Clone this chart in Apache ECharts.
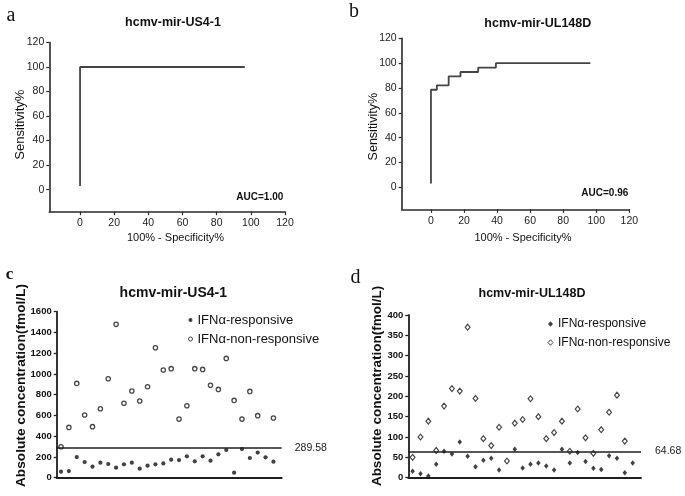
<!DOCTYPE html>
<html><head><meta charset="utf-8">
<script src="https://cdn.jsdelivr.net/npm/echarts@6/dist/echarts.min.js"></script>
<style>html,body{margin:0;padding:0;background:#fff}#c{width:685px;height:496px}</style>
</head><body><div id="c"></div>
<script>
// ---------- data ----------
const rocTicks = [0, 20, 40, 60, 80, 100, 120];
const rocA_fpr = [0, 0, 96.43];
const rocA_tpr = [3, 100, 100];
const rocB_fpr = [0, 0, 3.57, 10.71, 17.86, 28.57, 39.29, 96.43];
const rocB_tpr = [3, 78.57, 82.14, 89.29, 92.86, 96.43, 100, 100];
const aucA = 'AUC=1.00';
const aucB = 'AUC=0.96';
const seriesNames = ['IFNα-responsive', 'IFNα-non-responsive'];
const cResponsive = [58, 64, 199, 151, 106, 145, 132, 97, 129, 145, 87, 116, 129, 138, 174, 170, 206, 158, 206, 164, 225, 267, 48, 276, 190, 242, 196, 154];
const cNonResponsive = [299, 485, 909, 604, 492, 665, 954, 1478, 717, 835, 739, 877, 1253, 1038, 1051, 565, 694, 1051, 1044, 890, 851, 1150, 745, 565, 832, 598, null, 575];
const cCutoff = 289.58;
const dResponsive = [16, 10, 4, 33, 65, 58, 88, 53, 27, 43, 48, 19, null, 70, 24, 33, 36, 29, 19, 70, 36, 62, 40, 23, 20, 54, 48, 12, 36];
const dNonResponsive = [50, 100, 139, 67, 176, 219, 213, 370, 195, 96, 79, 124, 41, 134, 143, 194, 150, 96, 111, 139, 65, 169, 98, 60, 118, 161, 203, 90, null];
const dCutoff = 64.68;
const titles = ['hcmv-mir-US4-1', 'hcmv-mir-UL148D', 'hcmv-mir-US4-1', 'hcmv-mir-UL148D'];
const panelLetters = ['a', 'b', 'c', 'd'];

// ---------- helpers ----------
const pairs = (xs, ys) => xs.map((x, i) => [x, ys[i]]);
const indexed = arr => arr.map((v, i) => v == null ? null : [i + 1, v]).filter(Boolean);
const INK = '#1e1e1e';

function rocX(idx, min) {
  return {
    gridIndex: idx, type: 'value', min: min, max: 120,
    axisLine: { show: true, onZero: false, lineStyle: { color: '#2a2a2a', width: 1.6 } },
    axisTick: { show: true, customValues: rocTicks, length: 3.5, lineStyle: { color: '#2a2a2a', width: 1.2 } },
    axisLabel: { customValues: rocTicks, margin: 6, fontSize: 10.5, color: '#222', fontFamily: 'Liberation Sans, Arial' },
    splitLine: { show: false }
  };
}
function rocY(idx, min) {
  return {
    gridIndex: idx, type: 'value', min: min, max: 120,
    axisLine: { show: true, onZero: false, lineStyle: { color: '#2a2a2a', width: 1.6 } },
    axisTick: { show: true, customValues: rocTicks, length: 3, lineStyle: { color: '#2a2a2a', width: 1.2 } },
    axisLabel: { customValues: rocTicks, margin: 5, fontSize: 10.5, color: '#222', fontFamily: 'Liberation Sans, Arial' },
    splitLine: { show: false }
  };
}
function scatX(idx, max) {
  return {
    gridIndex: idx, type: 'value', min: 0.45, max: max,
    axisLine: { show: true, onZero: false, lineStyle: { color: INK, width: 1.8 } },
    axisTick: { show: false }, axisLabel: { show: false }, splitLine: { show: false }
  };
}
function scatY(idx, max, interval) {
  return {
    gridIndex: idx, type: 'value', min: 0, max: max, interval: interval,
    axisLine: { show: true, lineStyle: { color: INK, width: 1.8 } },
    axisTick: { show: true, length: 3, lineStyle: { color: INK, width: 1.3 } },
    axisLabel: { margin: 5, fontSize: 9.5, fontWeight: 'bold', color: '#111', fontFamily: 'Liberation Sans, Arial', formatter: v => String(v) },
    splitLine: { show: false }
  };
}
function cutLine(val, dist) {
  return {
    silent: true, symbol: 'none', animation: false,
    lineStyle: { color: INK, width: 1.5, type: 'solid' },
    label: { position: 'end', distance: dist, formatter: String(val), color: '#222', fontSize: 10.5, fontFamily: 'Liberation Sans, Arial' },
    data: [{ yAxis: val }]
  };
}
function txt(x, y, text, font, opts) {
  return Object.assign({
    type: 'text', x: x, y: y, silent: true,
    style: { text: text, font: font, fill: '#111', align: 'center', verticalAlign: 'middle' }
  }, opts || {});
}
const hollow = { color: '#fff', borderColor: '#1a1a1a', borderWidth: 1.3 };

const chart = echarts.init(document.getElementById('c'), null, { renderer: 'canvas' });
chart.setOption({
  animation: false,
  backgroundColor: '#fff',
  grid: [
    { left: 49.3, top: 42.5, width: 235.7, height: 169.2 },
    { left: 401.7, top: 38.3, width: 227.6, height: 171 },
    { left: 56.7, top: 311.7, width: 225, height: 166 },
    { left: 408.3, top: 315, width: 232.7, height: 162.7 }
  ],
  xAxis: [rocX(0, -18), rocX(1, -17.7), scatX(2, 29.05), scatX(3, 30.06)],
  yAxis: [rocY(0, -18), rocY(1, -17.7), scatY(2, 1600, 200), scatY(3, 400, 50)],
  legend: [
    {
      orient: 'vertical', left: 183, top: 308.5, itemWidth: 4, itemHeight: 4, itemGap: 6,
      textStyle: { fontSize: 13, color: '#111', fontFamily: 'Liberation Sans, Arial' },
      selectedMode: false,
      data: [
        { name: seriesNames[0], icon: 'circle', itemStyle: { color: '#111', borderWidth: 0 } },
        { name: seriesNames[1], icon: 'circle', itemStyle: { color: '#fff', borderColor: '#1a1a1a', borderWidth: 1 } }
      ]
    },
    {
      orient: 'vertical', left: 542.5, top: 313, itemWidth: 5, itemHeight: 5.5, itemGap: 6.5,
      textStyle: { fontSize: 12, color: '#111', fontFamily: 'Liberation Sans, Arial' },
      selectedMode: false,
      data: [
        { name: seriesNames[0], icon: 'diamond', itemStyle: { color: '#111', borderWidth: 0 } },
        { name: seriesNames[1], icon: 'diamond', itemStyle: { color: '#fff', borderColor: '#1a1a1a', borderWidth: 1 } }
      ]
    }
  ],
  series: [
    {
      type: 'line', xAxisIndex: 0, yAxisIndex: 0, data: pairs(rocA_fpr, rocA_tpr),
      showSymbol: false, lineStyle: { color: '#444', width: 1.8 }, silent: true
    },
    {
      type: 'line', xAxisIndex: 1, yAxisIndex: 1, data: pairs(rocB_fpr, rocB_tpr), step: 'end',
      showSymbol: false, lineStyle: { color: '#444', width: 1.8 }, silent: true
    },
    {
      name: seriesNames[0], type: 'scatter', xAxisIndex: 2, yAxisIndex: 2, data: indexed(cResponsive),
      symbol: 'circle', symbolSize: 4.2, itemStyle: { color: '#111' }, markLine: cutLine(cCutoff, 13)
    },
    {
      name: seriesNames[1], type: 'scatter', xAxisIndex: 2, yAxisIndex: 2, data: indexed(cNonResponsive),
      symbol: 'circle', symbolSize: 4.3, itemStyle: hollow
    },
    {
      name: seriesNames[0], type: 'scatter', xAxisIndex: 3, yAxisIndex: 3, data: indexed(dResponsive),
      symbol: 'diamond', symbolSize: [4.5, 5.5], itemStyle: { color: '#111' }, markLine: cutLine(dCutoff, 14)
    },
    {
      name: seriesNames[1], type: 'scatter', xAxisIndex: 3, yAxisIndex: 3, data: indexed(dNonResponsive),
      symbol: 'diamond', symbolSize: [4.8, 5.8], itemStyle: { color: '#fff', borderColor: '#1a1a1a', borderWidth: 1.2 }
    }
  ],
  graphic: [
    txt(11, 16, panelLetters[0], '20px "Liberation Serif", "Times New Roman", serif'),
    txt(354, 12, panelLetters[1], '20px "Liberation Serif", "Times New Roman", serif'),
    txt(9.5, 274.5, panelLetters[2], 'bold 17px "Liberation Serif", "Times New Roman", serif'),
    txt(355.5, 277.5, panelLetters[3], '20px "Liberation Serif", "Times New Roman", serif'),
    txt(173, 22.5, titles[0], 'bold 12.5px "Liberation Sans", Arial, sans-serif'),
    txt(537.8, 23.3, titles[1], 'bold 12.5px "Liberation Sans", Arial, sans-serif'),
    txt(173.3, 293, titles[2], 'bold 14px "Liberation Sans", Arial, sans-serif'),
    txt(532, 294, titles[3], 'bold 12.5px "Liberation Sans", Arial, sans-serif'),
    txt(20.7, 124.7, 'Sensitivity%', '13px "Liberation Sans", Arial, sans-serif', { rotation: Math.PI / 2 }),
    txt(373.3, 126.7, 'Sensitivity%', '12.5px "Liberation Sans", Arial, sans-serif', { rotation: Math.PI / 2 }),
    txt(175.5, 237.5, '100% - Specificity%', '11px "Liberation Sans", Arial, sans-serif'),
    txt(523, 237.5, '100% - Specificity%', '11px "Liberation Sans", Arial, sans-serif'),
    txt(21.5, 385.5, 'Absolute concentration(fmol/L)', 'bold 13.7px "Liberation Sans", Arial, sans-serif', { rotation: Math.PI / 2 }),
    txt(377, 386, 'Absolute concentration(fmol/L)', 'bold 13.5px "Liberation Sans", Arial, sans-serif', { rotation: Math.PI / 2 }),
    { type: 'text', x: 283.3, y: 197, silent: true, style: { text: aucA, font: 'bold 10px "Liberation Sans", Arial, sans-serif', fill: '#111', align: 'right', verticalAlign: 'middle' } },
    { type: 'text', x: 628.3, y: 193.7, silent: true, style: { text: aucB, font: 'bold 10px "Liberation Sans", Arial, sans-serif', fill: '#111', align: 'right', verticalAlign: 'middle' } }
  ]
});
</script></body></html>
